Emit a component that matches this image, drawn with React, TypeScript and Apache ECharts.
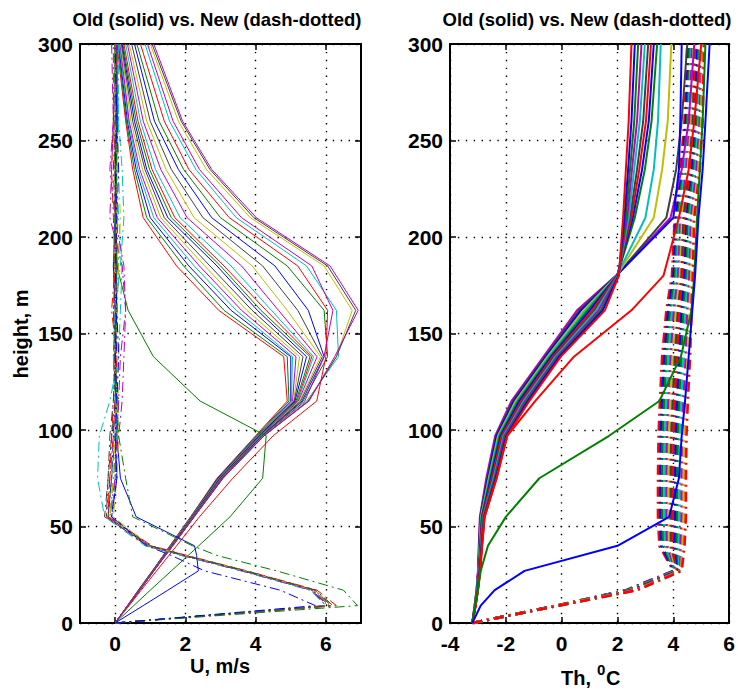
import React, { useEffect, useRef } from "react";
import * as echarts from "echarts";

// ---------- data ----------
const HEIGHTS_U = [0, 9, 17, 27, 35, 40, 55, 75, 97, 115, 138, 162, 185, 210, 235, 260, 300];
const HEIGHTS_TH = [0, 9, 17, 27, 40, 55, 75, 97, 115, 138, 162, 180, 210, 235, 260, 300];

const Y_TICKS = [0, 50, 100, 150, 200, 250, 300];
const U_TICKS = [0, 2, 4, 6];
const TH_TICKS = [-4, -2, 0, 2, 4, 6];

const TITLE = "Old (solid) vs. New (dash-dotted)";
const U_NAME = "U, m/s";
const Y_NAME = "height, m";

const B = "#0000FF", G = "#008000", R = "#FF0000", C = "#00BFBF", M = "#BF00BF", Y = "#BFBF00", K = "#404040";

// Old (solid) wind profiles, U at HEIGHTS_U
const OLD_U_COLORS = [R, G, B, C, M, Y, K, B, G, R, C, M, Y, K, B, G, R, C, M, Y, K, M, G, B];
const OLD_U = [
  [0, 0.35, 0.66, 1.06, 1.37, 1.56, 2.15, 2.90, 4.00, 4.90, 4.80, 2.95, 1.75, 0.80, 0.50, 0.30, 0.05],
  [0, 0.35, 0.66, 1.06, 1.37, 1.56, 2.15, 2.92, 4.02, 4.95, 4.90, 3.10, 1.95, 0.90, 0.55, 0.32, 0.08],
  [0, 0.36, 0.67, 1.07, 1.38, 1.58, 2.17, 2.93, 4.05, 5.00, 5.00, 3.30, 2.10, 1.00, 0.60, 0.35, 0.10],
  [0, 0.36, 0.67, 1.07, 1.38, 1.58, 2.17, 2.95, 4.06, 5.02, 5.05, 3.45, 2.25, 1.10, 0.65, 0.38, 0.12],
  [0, 0.36, 0.68, 1.08, 1.39, 1.59, 2.18, 2.96, 4.08, 5.05, 5.15, 3.60, 2.40, 1.20, 0.70, 0.40, 0.14],
  [0, 0.36, 0.68, 1.08, 1.39, 1.59, 2.18, 2.97, 4.09, 5.08, 5.25, 3.75, 2.55, 1.30, 0.78, 0.45, 0.16],
  [0, 0.36, 0.68, 1.08, 1.40, 1.60, 2.19, 2.98, 4.10, 5.10, 5.35, 3.90, 2.70, 1.40, 0.85, 0.50, 0.18],
  [0, 0.36, 0.68, 1.08, 1.40, 1.60, 2.19, 2.99, 4.10, 5.12, 5.45, 4.05, 2.90, 1.50, 0.90, 0.55, 0.20],
  [0, 0.36, 0.68, 1.08, 1.40, 1.60, 2.20, 3.00, 4.12, 5.15, 5.55, 4.15, 3.00, 1.60, 0.98, 0.60, 0.22],
  [0, 0.36, 0.68, 1.08, 1.40, 1.60, 2.20, 3.01, 4.13, 5.18, 5.60, 4.30, 3.10, 1.70, 1.05, 0.65, 0.25],
  [0, 0.36, 0.69, 1.09, 1.41, 1.61, 2.21, 3.02, 4.14, 5.20, 5.65, 4.45, 3.30, 1.85, 1.15, 0.72, 0.30],
  [0, 0.36, 0.69, 1.09, 1.41, 1.61, 2.21, 3.03, 4.15, 5.22, 5.75, 4.65, 3.60, 2.05, 1.30, 0.80, 0.35],
  [0, 0.37, 0.69, 1.09, 1.42, 1.62, 2.22, 3.04, 4.16, 5.25, 5.85, 4.90, 3.90, 2.25, 1.45, 0.90, 0.40],
  [0, 0.37, 0.69, 1.09, 1.42, 1.62, 2.22, 3.04, 4.17, 5.28, 5.90, 5.20, 4.20, 2.50, 1.60, 1.00, 0.47],
  [0, 0.37, 0.70, 1.10, 1.42, 1.63, 2.23, 3.05, 4.18, 5.32, 5.95, 5.50, 4.55, 2.75, 1.80, 1.12, 0.55],
  [0, 0.37, 0.70, 1.10, 1.43, 1.63, 2.23, 3.05, 4.19, 5.35, 6.05, 5.95, 4.90, 3.00, 1.95, 1.25, 0.62],
  [0, 0.40, 0.74, 1.18, 1.53, 1.75, 2.40, 3.35, 4.50, 5.74, 6.00, 6.05, 5.20, 3.25, 2.10, 1.40, 0.72],
  [0, 0.37, 0.70, 1.10, 1.43, 1.64, 2.24, 3.06, 4.21, 5.45, 6.36, 6.30, 5.45, 3.45, 2.30, 1.55, 0.85],
  [0, 0.37, 0.70, 1.10, 1.43, 1.64, 2.24, 3.06, 4.22, 5.40, 5.95, 6.20, 5.60, 3.60, 2.40, 1.65, 0.92],
  [0, 0.37, 0.70, 1.10, 1.43, 1.64, 2.25, 3.07, 4.23, 5.48, 6.30, 6.75, 5.95, 3.85, 2.60, 1.80, 1.00],
  [0, 0.37, 0.70, 1.10, 1.43, 1.64, 2.25, 3.07, 4.24, 5.50, 6.30, 6.85, 6.05, 3.95, 2.70, 1.88, 1.05],
  [0, 0.37, 0.70, 1.10, 1.43, 1.64, 2.25, 3.07, 4.24, 5.52, 6.25, 6.92, 6.12, 4.02, 2.75, 1.92, 1.10],
  [0, 0.53, 1.00, 1.60, 2.08, 2.38, 3.27, 4.20, 4.30, 2.42, 1.09, 0.37, 0.05, 0.03, 0.02, 0.01, 0.00],
  [0, 0.80, 1.50, 2.37, 2.32, 2.26, 0.60, 0.15, 0.05, 0.02, 0.00, 0.03, 0.05, 0.02, 0.04, 0.06, 0.05],
];

// New (dash-dotted) wind profiles, U at HEIGHTS_U
const NEW_U_COLORS = [B, G, R, C, M, Y, K, B, G, R, C, M, Y, K, G, B];
const NEW_U = [
  [0, 6.05, 5.60, 3.65, 1.95, 0.95, -0.20, -0.10, -0.05, 0.00, 0.05, 0.00, -0.05, 0.00, 0.05, 0.00, 0.00],
  [0, 6.10, 5.65, 3.70, 2.00, 1.00, -0.15, -0.05, 0.05, 0.10, 0.00, 0.05, 0.10, 0.05, 0.00, 0.05, 0.05],
  [0, 6.20, 5.70, 3.70, 1.95, 0.90, -0.25, -0.15, -0.10, -0.05, 0.00, -0.05, 0.00, -0.05, -0.10, -0.05, -0.05],
  [0, 6.00, 5.55, 3.60, 1.90, 0.85, -0.30, -0.50, -0.45, -0.15, 0.10, 0.15, 0.20, 0.10, 0.05, 0.10, 0.10],
  [0, 6.10, 5.60, 3.65, 1.95, 0.95, -0.10, 0.00, 0.10, 0.20, 0.25, 0.30, 0.20, -0.15, -0.10, -0.05, -0.10],
  [0, 6.15, 5.65, 3.70, 2.00, 1.00, -0.05, 0.05, 0.10, 0.05, 0.10, 0.05, 0.10, 0.15, 0.10, 0.05, 0.00],
  [0, 6.00, 5.60, 3.60, 1.90, 0.90, -0.25, -0.20, -0.10, 0.00, -0.05, 0.00, 0.05, 0.00, -0.05, 0.00, 0.05],
  [0, 6.10, 5.65, 3.65, 1.95, 0.95, -0.10, 0.05, 0.00, 0.05, 0.10, 0.05, 0.00, 0.05, 0.10, 0.05, 0.00],
  [0, 6.20, 5.70, 3.75, 2.00, 1.00, -0.20, -0.10, 0.00, 0.05, 0.00, -0.05, 0.05, 0.00, 0.00, -0.05, 0.00],
  [0, 6.30, 5.75, 3.75, 2.05, 1.05, -0.20, -0.15, -0.05, 0.00, 0.05, -0.10, 0.00, 0.05, 0.00, 0.00, 0.05],
  [0, 6.00, 5.55, 3.60, 1.90, 0.90, -0.10, 0.00, 0.05, 0.00, -0.05, 0.00, 0.15, 0.25, 0.20, 0.10, 0.05],
  [0, 6.05, 5.60, 3.65, 1.95, 0.95, -0.15, 0.00, 0.05, 0.10, 0.15, 0.30, 0.25, 0.00, -0.15, -0.05, 0.05],
  [0, 6.10, 5.65, 3.70, 2.00, 0.95, -0.15, -0.05, 0.00, 0.05, 0.00, 0.05, 0.00, 0.05, 0.05, 0.00, 0.00],
  [0, 6.15, 5.70, 3.70, 2.00, 1.00, -0.30, -0.20, -0.15, -0.05, 0.00, 0.00, -0.05, 0.00, 0.00, 0.05, 0.05],
  [0, 6.90, 6.50, 4.60, 2.90, 2.20, 0.50, 0.30, 0.10, 0.05, 0.00, 0.05, 0.00, 0.00, 0.05, 0.00, 0.00],
  [0, 5.70, 4.70, 2.55, 1.60, 0.90, -0.10, 0.05, 0.00, 0.05, 0.00, 0.05, 0.00, 0.05, 0.00, 0.05, 0.00],
];

// Old (solid) potential temperature profiles, Th at HEIGHTS_TH
const OLD_TH_COLORS = [M, K, B, Y, C, G, B, R, K, C, M, G, B, R, R, G, B];
const OLD_TH = [
  [-3.2, -3.12, -3.05, -3.00, -2.97, -2.93, -2.70, -2.38, -1.80, -0.65, 0.55, 1.95, 3.90, 4.30, 4.55, 4.75],
  [-3.2, -3.12, -3.05, -2.99, -2.96, -2.92, -2.67, -2.35, -1.75, -0.60, 0.63, 1.96, 3.75, 4.10, 4.30, 4.50],
  [-3.2, -3.11, -3.04, -2.99, -2.95, -2.90, -2.64, -2.32, -1.70, -0.56, 0.70, 1.96, 4.00, 4.20, 4.25, 4.30],
  [-3.2, -3.11, -3.04, -2.98, -2.94, -2.89, -2.61, -2.28, -1.65, -0.51, 0.78, 1.97, 3.30, 3.60, 3.80, 3.93],
  [-3.2, -3.11, -3.03, -2.98, -2.93, -2.88, -2.59, -2.25, -1.60, -0.46, 0.86, 1.98, 3.00, 3.30, 3.45, 3.55],
  [-3.2, -3.10, -3.03, -2.97, -2.92, -2.86, -2.56, -2.22, -1.56, -0.41, 0.93, 1.99, 2.62, 2.98, 3.22, 3.42],
  [-3.2, -3.10, -3.03, -2.96, -2.91, -2.85, -2.53, -2.18, -1.51, -0.37, 1.01, 1.99, 2.55, 2.88, 3.12, 3.30],
  [-3.2, -3.10, -3.02, -2.96, -2.91, -2.84, -2.50, -2.15, -1.45, -0.32, 1.09, 2.00, 2.50, 2.78, 3.02, 3.20],
  [-3.2, -3.10, -3.02, -2.95, -2.90, -2.82, -2.47, -2.11, -1.40, -0.27, 1.17, 2.01, 2.45, 2.70, 2.92, 3.10],
  [-3.2, -3.09, -3.02, -2.94, -2.89, -2.81, -2.44, -2.08, -1.36, -0.22, 1.24, 2.02, 2.40, 2.60, 2.80, 2.98],
  [-3.2, -3.09, -3.01, -2.94, -2.88, -2.80, -2.41, -2.05, -1.31, -0.17, 1.32, 2.03, 2.35, 2.52, 2.70, 2.86],
  [-3.2, -3.09, -3.01, -2.93, -2.87, -2.79, -2.39, -2.01, -1.26, -0.12, 1.40, 2.04, 2.30, 2.45, 2.60, 2.74],
  [-3.2, -3.08, -3.00, -2.93, -2.86, -2.77, -2.36, -1.98, -1.21, -0.08, 1.47, 2.04, 2.25, 2.38, 2.50, 2.62],
  [-3.2, -3.08, -3.00, -2.92, -2.85, -2.76, -2.33, -1.95, -1.16, -0.03, 1.55, 2.05, 2.20, 2.30, 2.40, 2.50],
  [-3.2, -3.08, -3.00, -2.92, -2.85, -2.76, -2.33, -1.95, -0.95, 0.44, 2.50, 3.65, 4.20, 4.55, 4.75, 5.00],
  [-3.2, -3.10, -3.00, -2.90, -2.64, -2.00, -0.80, 1.70, 3.50, 4.27, 4.65, 4.75, 4.85, 4.95, 5.05, 5.15],
  [-3.2, -2.90, -2.40, -1.33, 2.00, 3.85, 4.20, 4.30, 4.42, 4.55, 4.68, 4.78, 4.90, 5.05, 5.15, 5.30],
];

// New (dash-dotted) potential temperature profiles, Th at HEIGHTS_TH
const NEW_TH_COLORS = [R, B, G, C, M, Y, K, R, B, G, C, M, Y, R];
const NEW_TH = [
  [-3.2, -0.20, 2.30, 4.00, 3.50, 3.45, 3.45, 3.47, 3.52, 3.60, 3.75, 3.95, 4.05, 4.25, 4.40, 4.50],
  [-3.2, -0.19, 2.33, 4.02, 3.57, 3.53, 3.53, 3.55, 3.60, 3.68, 3.82, 4.01, 4.10, 4.30, 4.45, 4.55],
  [-3.2, -0.18, 2.36, 4.05, 3.64, 3.60, 3.60, 3.62, 3.67, 3.75, 3.89, 4.07, 4.16, 4.36, 4.50, 4.59],
  [-3.2, -0.18, 2.39, 4.07, 3.71, 3.68, 3.68, 3.70, 3.75, 3.83, 3.96, 4.12, 4.21, 4.41, 4.55, 4.64],
  [-3.2, -0.17, 2.42, 4.09, 3.78, 3.76, 3.76, 3.78, 3.83, 3.91, 4.03, 4.18, 4.27, 4.47, 4.60, 4.68],
  [-3.2, -0.16, 2.45, 4.12, 3.85, 3.83, 3.83, 3.85, 3.90, 3.98, 4.10, 4.24, 4.32, 4.52, 4.65, 4.73],
  [-3.2, -0.15, 2.48, 4.14, 3.92, 3.91, 3.91, 3.93, 3.98, 4.06, 4.17, 4.30, 4.37, 4.57, 4.70, 4.78],
  [-3.2, -0.15, 2.52, 4.16, 3.98, 3.99, 3.99, 4.01, 4.06, 4.14, 4.23, 4.35, 4.43, 4.63, 4.75, 4.82],
  [-3.2, -0.14, 2.55, 4.19, 4.05, 4.07, 4.07, 4.09, 4.14, 4.22, 4.30, 4.41, 4.48, 4.68, 4.80, 4.87],
  [-3.2, -0.13, 2.58, 4.21, 4.12, 4.14, 4.14, 4.16, 4.21, 4.29, 4.37, 4.47, 4.53, 4.73, 4.85, 4.91],
  [-3.2, -0.12, 2.61, 4.23, 4.19, 4.22, 4.22, 4.24, 4.29, 4.37, 4.44, 4.53, 4.59, 4.79, 4.90, 4.96],
  [-3.2, -0.12, 2.64, 4.26, 4.26, 4.30, 4.30, 4.32, 4.37, 4.45, 4.51, 4.58, 4.64, 4.84, 4.95, 5.01],
  [-3.2, -0.11, 2.67, 4.28, 4.33, 4.37, 4.37, 4.39, 4.44, 4.52, 4.58, 4.64, 4.70, 4.90, 5.00, 5.05],
  [-3.2, -0.10, 2.70, 4.30, 4.40, 4.45, 4.45, 4.47, 4.52, 4.60, 4.65, 4.70, 4.75, 4.95, 5.05, 5.10],
];

// ---------- chart ----------
const FONT = "'Liberation Sans', Arial, Helvetica, sans-serif";

function lineSeries(vals: number[], heights: number[], color: string, axis: number, width: number, dash: any) {
  return {
    type: "line",
    xAxisIndex: axis,
    yAxisIndex: axis,
    data: vals.map((v, i) => [v, heights[i]]),
    showSymbol: false,
    symbol: "none",
    silent: true,
    lineStyle: { color, width, type: dash },
    clip: true,
  };
}

const DOT = { color: "#000", width: 1.4, type: [1.4, 6.5] };

function xAxes(grid: number, min: number, max: number, ticks: number[]) {
  const common = {
    gridIndex: grid,
    type: "value",
    min,
    max,
    axisLine: { show: true, onZero: false, lineStyle: { color: "#000", width: 2 } },
    axisTick: { show: true, inside: true, length: 6, customValues: ticks, lineStyle: { color: "#000", width: 1.5 } },
  };
  return [
    {
      ...common,
      position: "bottom",
      axisLabel: {
        customValues: ticks,
        margin: 10,
        color: "#000",
        fontSize: 21,
        fontWeight: "bold",
        fontFamily: FONT,
      },
      splitLine: { show: true, lineStyle: DOT },
    },
    { ...common, position: "top", axisLabel: { show: false }, splitLine: { show: false } },
  ];
}

function yAxes(grid: number) {
  const common = {
    gridIndex: grid,
    type: "value",
    min: 0,
    max: 300,
    interval: 50,
    axisLine: { show: true, onZero: false, lineStyle: { color: "#000", width: 2 } },
    axisTick: { show: true, inside: true, length: 6, lineStyle: { color: "#000", width: 1.5 } },
  };
  return [
    {
      ...common,
      position: "left",
      axisLabel: {
        margin: 7,
        color: "#000",
        fontSize: 21,
        fontWeight: "bold",
        fontFamily: FONT,
        formatter: (v: number) => (Y_TICKS.includes(v) ? String(v) : ""),
      },
      splitLine: { show: true, lineStyle: DOT },
    },
    { ...common, position: "right", axisLabel: { show: false }, splitLine: { show: false } },
  ];
}

function txt(text: string, x: number, y: number, size: number, extra: any = {}) {
  return {
    type: "text",
    x,
    y,
    silent: true,
    ...extra,
    style: {
      text,
      fill: "#000",
      fontSize: size,
      fontWeight: "bold",
      fontFamily: FONT,
      align: extra.align || "center",
      verticalAlign: "middle",
    },
  };
}

export default function App() {
  const ref = useRef<HTMLDivElement>(null);
  useEffect(() => {
    if (!ref.current) return;
    const chart = echarts.init(ref.current, undefined, { renderer: "svg" });
    const DASH_U = [10, 4, 2, 4];
    const DASH_TH = [10, 5, 2, 5];
    const series: any[] = [];
    OLD_U.forEach((v, i) => series.push(lineSeries(v, HEIGHTS_U, OLD_U_COLORS[i], 0, 1, "solid")));
    NEW_U.forEach((v, i) => series.push(lineSeries(v, HEIGHTS_U, NEW_U_COLORS[i], 0, 1, DASH_U)));
    NEW_TH.forEach((v, i) => series.push(lineSeries(v, HEIGHTS_TH, NEW_TH_COLORS[i], 2, 2.6, DASH_TH)));
    OLD_TH.forEach((v, i) => series.push(lineSeries(v, HEIGHTS_TH, OLD_TH_COLORS[i], 2, 2, "solid")));

    const option: any = {
      animation: false,
      backgroundColor: "#fff",
      grid: [
        { left: 80, top: 44, width: 281, height: 579, containLabel: false },
        { left: 450, top: 44, width: 282, height: 579, containLabel: false },
      ],
      xAxis: [...xAxes(0, -1, 7, U_TICKS), ...xAxes(1, -4, 6, TH_TICKS)],
      yAxis: [...yAxes(0), ...yAxes(1)],
      series,
      graphic: [
        txt(TITLE, 217, 19, 18.5),
        txt(TITLE, 587, 19, 18.5),
        txt(U_NAME, 220, 666, 20),
        txt(Y_NAME, 21, 334, 20, { rotation: Math.PI / 2 }),
        txt("Th,", 561, 678, 20, { align: "left" }),
        txt("0", 597, 669, 15, { align: "left" }),
        txt("C", 606, 678, 20, { align: "left" }),
      ],
    };
    chart.setOption(option);
    return () => chart.dispose();
  }, []);
  return (
    <div
      ref={ref}
      style={{ position: "absolute", left: 0, top: 0, width: 738, height: 690, background: "#fff" }}
    />
  );
}
